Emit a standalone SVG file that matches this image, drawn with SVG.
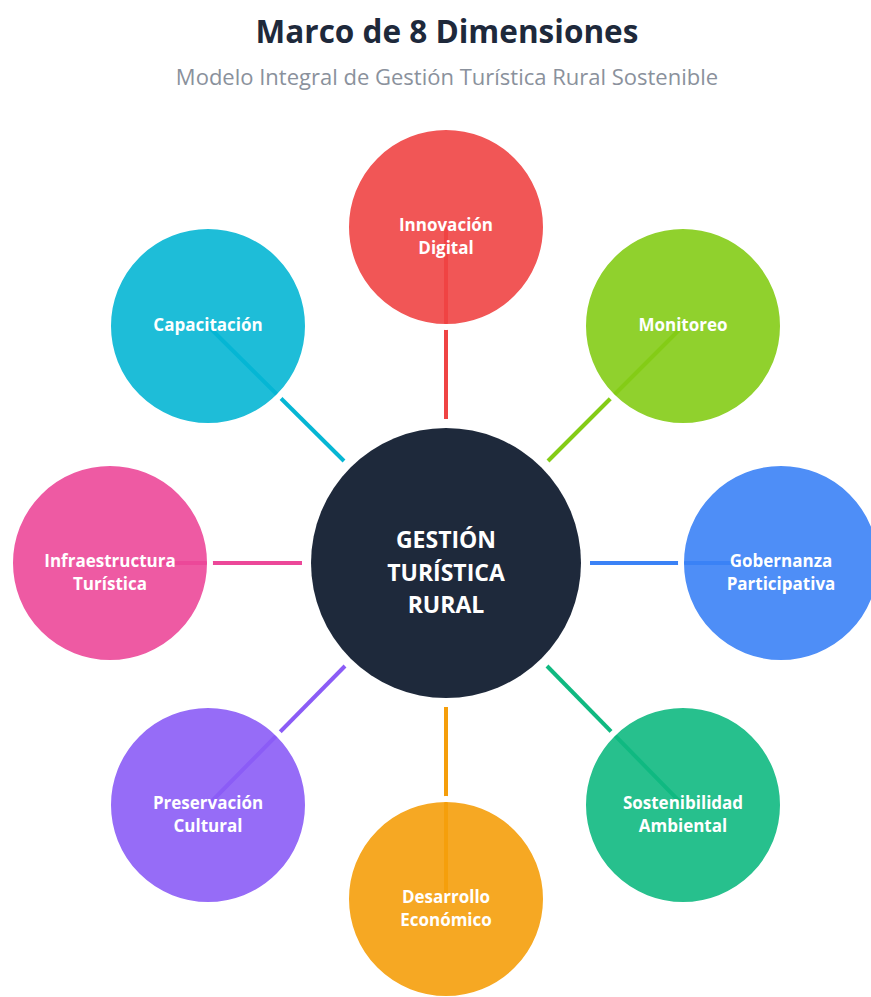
<svg xmlns="http://www.w3.org/2000/svg" width="871" height="997" viewBox="0 0 871 997">
<style>
.title{font-family:"Open Sans","Liberation Sans",sans-serif;font-weight:700;font-size:31.5px;fill:#1e293b;text-anchor:middle}
.sub{font-family:"Open Sans","Liberation Sans",sans-serif;font-size:22px;fill:#8a919c;text-anchor:middle}
.lbl{font-family:"Open Sans","Liberation Sans",sans-serif;font-weight:700;font-size:17px;fill:#ffffff;text-anchor:middle}
.clbl{font-family:"Open Sans","Liberation Sans",sans-serif;font-weight:700;font-size:23px;fill:#ffffff;text-anchor:middle}
.node{stroke:#ffffff;stroke-width:6;fill-opacity:0.9}
.conn line{stroke-width:4;stroke-linecap:butt}
</style>
<rect width="871" height="997" fill="#ffffff"/>
<text class="title" x="447" y="43">Marco de 8 Dimensiones</text>
<text class="sub" x="447" y="85">Modelo Integral de Gestión Turística Rural Sostenible</text>
<g id="connectors" class="conn">
<line x1="446" y1="419" x2="446" y2="227" stroke="#ef4444"/>
<line x1="548" y1="461" x2="683" y2="326" stroke="#84cc16"/>
<line x1="590" y1="563" x2="781" y2="563" stroke="#3b82f6"/>
<line x1="547" y1="666" x2="683" y2="805" stroke="#10b981"/>
<line x1="446" y1="707" x2="446" y2="899" stroke="#f59e0b"/>
<line x1="345" y1="666" x2="208" y2="805" stroke="#8b5cf6"/>
<line x1="302" y1="563" x2="110" y2="563" stroke="#ec4899"/>
<line x1="344" y1="461" x2="208" y2="326" stroke="#06b6d4"/>
</g>
<g id="node-innovacion">
<circle class="node" cx="446" cy="227" r="100" fill="#ef4444"/>
<text class="lbl" x="446" y="231">Innovación</text>
<text class="lbl" x="446" y="254">Digital</text>
</g>
<g id="node-monitoreo">
<circle class="node" cx="683" cy="326" r="100" fill="#84cc16"/>
<text class="lbl" x="683" y="331">Monitoreo</text>
</g>
<g id="node-gobernanza">
<circle class="node" cx="781" cy="563" r="100" fill="#3b82f6"/>
<text class="lbl" x="781" y="567">Gobernanza</text>
<text class="lbl" x="781" y="590">Participativa</text>
</g>
<g id="node-sostenibilidad">
<circle class="node" cx="683" cy="805" r="100" fill="#10b981"/>
<text class="lbl" x="683" y="809">Sostenibilidad</text>
<text class="lbl" x="683" y="832">Ambiental</text>
</g>
<g id="node-desarrollo">
<circle class="node" cx="446" cy="899" r="100" fill="#f59e0b"/>
<text class="lbl" x="446" y="903">Desarrollo</text>
<text class="lbl" x="446" y="926">Económico</text>
</g>
<g id="node-preservacion">
<circle class="node" cx="208" cy="805" r="100" fill="#8b5cf6"/>
<text class="lbl" x="208" y="809">Preservación</text>
<text class="lbl" x="208" y="832">Cultural</text>
</g>
<g id="node-infraestructura">
<circle class="node" cx="110" cy="563" r="100" fill="#ec4899"/>
<text class="lbl" x="110" y="567">Infraestructura</text>
<text class="lbl" x="110" y="590">Turística</text>
</g>
<g id="node-capacitacion">
<circle class="node" cx="208" cy="326" r="100" fill="#06b6d4"/>
<text class="lbl" x="208" y="331">Capacitación</text>
</g>
<g id="node-center">
<circle cx="446" cy="563" r="135" fill="#1e293b"/>
<text class="clbl" x="446" y="548">GESTIÓN</text>
<text class="clbl" x="446" y="581">TURÍSTICA</text>
<text class="clbl" x="446" y="613">RURAL</text>
</g>
</svg>
